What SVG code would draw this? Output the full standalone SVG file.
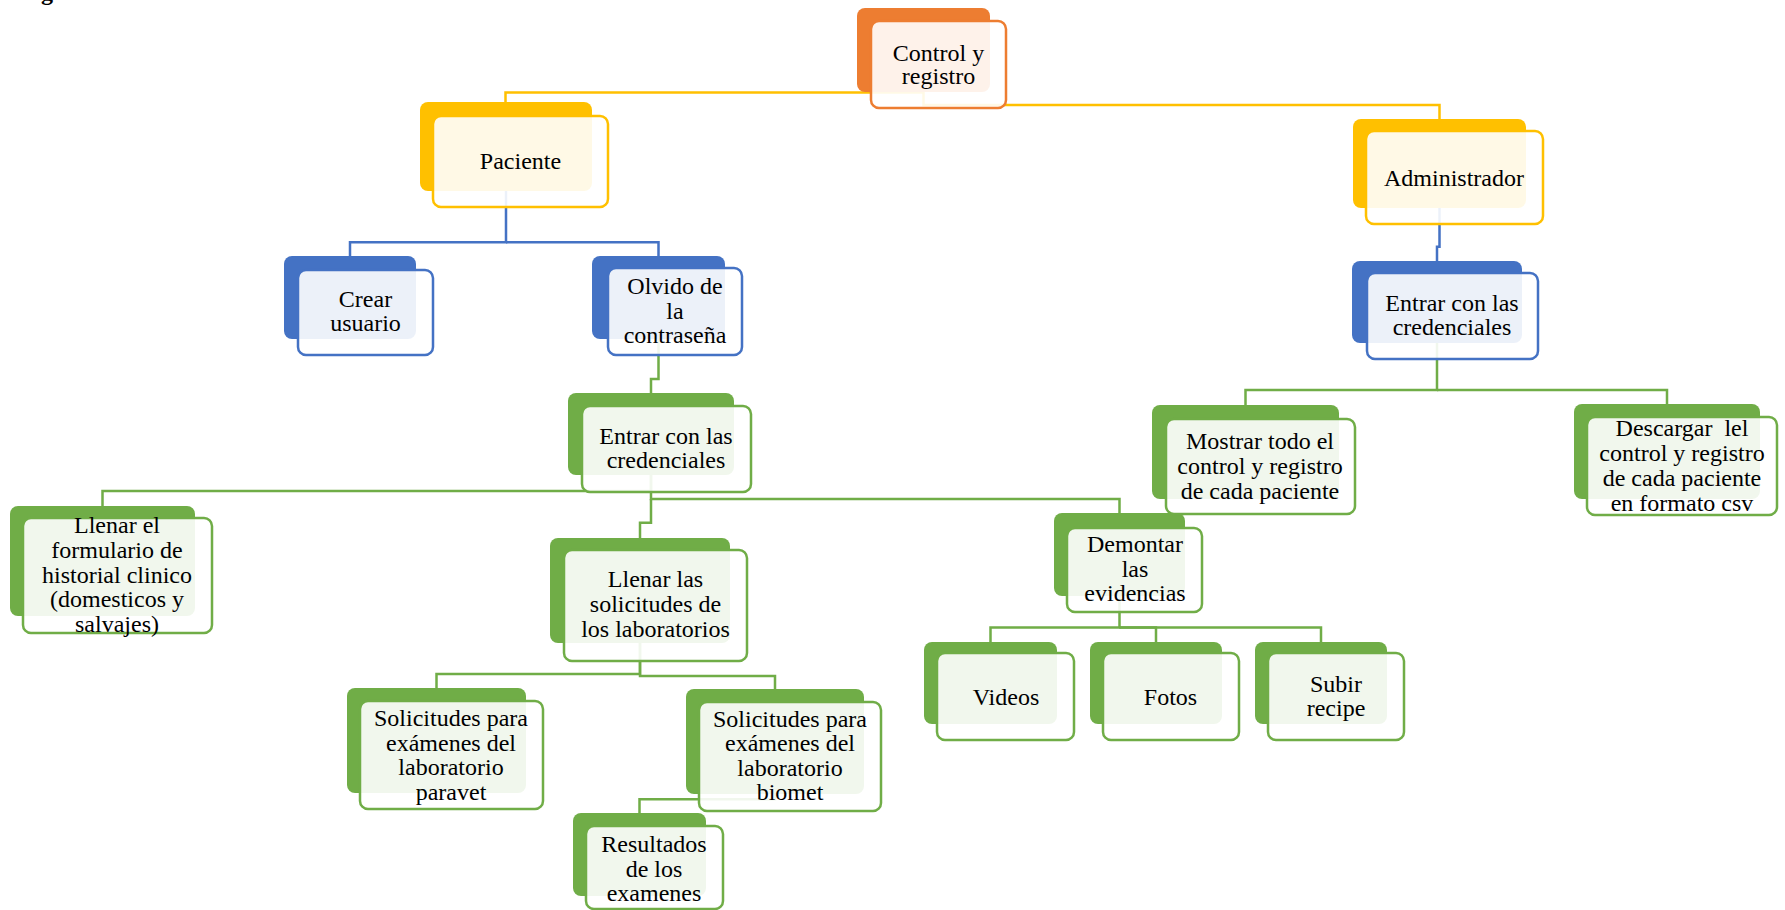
<svg xmlns="http://www.w3.org/2000/svg" width="1785" height="910" viewBox="0 0 1785 910">
<style>
.t{font-family:"Liberation Serif","Times New Roman",serif;font-size:24px;fill:#000;text-anchor:middle;white-space:pre}
.bo{fill:#ED7D31}.by{fill:#FFC000}.bb{fill:#4472C4}.bg{fill:#70AD47}
.f{fill:#fff;fill-opacity:0.9;stroke-width:2.5}
.fo{stroke:#ED7D31}.fy{stroke:#FFC000}.fb{stroke:#4472C4}.fg{stroke:#70AD47}
.c{fill:none;stroke-width:2.5}
.cy{stroke:#FFC000}.cb{stroke:#4472C4}.cg{stroke:#70AD47}
</style>
<rect width="1785" height="910" fill="#fff"/>
<text x="41" y="0" style="font-family:'Liberation Serif',serif;font-size:24px;font-weight:bold">g</text>
<g id="connectors">
<path class="c cy" d="M923.5,92.5 H505.5 V102"/>
<path class="c cy" d="M923.5,92 V105 H1439.5 V119"/>
<path class="c cb" d="M506,191 V242.3 H350 V256"/>
<path class="c cb" d="M506,242.3 H658.5 V256"/>
<path class="c cb" d="M1439.5,208 V246.7 H1437 V261"/>
<path class="c cg" d="M658.5,339 V379 H651 V393"/>
<path class="c cg" d="M651,475 V491 H102.5 V506"/>
<path class="c cg" d="M651,475 V499 H1119.5 V513"/>
<path class="c cg" d="M651,499 V522.7 H640 V538"/>
<path class="c cg" d="M640,643 V674 H436.5 V688"/>
<path class="c cg" d="M640,643 V676 H775 V689"/>
<path class="c cg" d="M775,794 V799.3 H639.5 V813"/>
<path class="c cg" d="M1119.5,596 V627.5 H990.5 V642"/>
<path class="c cg" d="M1119.5,627.5 H1156 V642"/>
<path class="c cg" d="M1119.5,627.5 H1321 V642"/>
<path class="c cg" d="M1437,343 V390 H1245.5 V405"/>
<path class="c cg" d="M1437,390 H1667 V404"/>
</g>
<g id="control">
<rect class="bo" x="857" y="8" width="133" height="84" rx="8"/>
<rect class="f fo" x="871" y="21" width="135" height="87" rx="8"/>
<text class="t" x="938.5" y="61">Control y</text>
<text class="t" x="938.5" y="84">registro</text>
</g>
<g id="paciente">
<rect class="by" x="420" y="102" width="172" height="89" rx="8"/>
<rect class="f fy" x="433" y="116" width="175" height="91" rx="8"/>
<text class="t" x="520.5" y="169">Paciente</text>
</g>
<g id="administrador">
<rect class="by" x="1353" y="119" width="173" height="89" rx="8"/>
<rect class="f fy" x="1366" y="131" width="177" height="93" rx="8"/>
<text class="t" x="1454" y="186">Administrador</text>
</g>
<g id="crear">
<rect class="bb" x="284" y="256" width="132" height="83" rx="8"/>
<rect class="f fb" x="298" y="270" width="135" height="85" rx="8"/>
<text class="t" x="365.5" y="307">Crear</text>
<text class="t" x="365.5" y="331">usuario</text>
</g>
<g id="olvido">
<rect class="bb" x="592" y="256" width="133" height="83" rx="8"/>
<rect class="f fb" x="608" y="268" width="134" height="87" rx="8"/>
<text class="t" x="675" y="294">Olvido de</text>
<text class="t" x="675" y="318.5">la</text>
<text class="t" x="675" y="343">contraseña</text>
</g>
<g id="entrar-paciente">
<rect class="bg" x="568" y="393" width="166" height="82" rx="8"/>
<rect class="f fg" x="582" y="406" width="169" height="86" rx="8"/>
<text class="t" x="666" y="444">Entrar con las</text>
<text class="t" x="666" y="468">credenciales</text>
</g>
<g id="llenar-formulario">
<rect class="bg" x="10" y="506" width="185" height="110" rx="8"/>
<rect class="f fg" x="23" y="518" width="189" height="115" rx="8"/>
<text class="t" x="117" y="533.3">Llenar el</text>
<text class="t" x="117" y="558">formulario de</text>
<text class="t" x="117" y="582.7">historial clinico</text>
<text class="t" x="117" y="607.3">(domesticos y</text>
<text class="t" x="117" y="632">salvajes)</text>
</g>
<g id="llenar-solicitudes">
<rect class="bg" x="550" y="538" width="180" height="105" rx="8"/>
<rect class="f fg" x="564" y="550" width="183" height="111" rx="8"/>
<text class="t" x="655.5" y="587.3">Llenar las</text>
<text class="t" x="655.5" y="612">solicitudes de</text>
<text class="t" x="655.5" y="636.7">los laboratorios</text>
</g>
<g id="demontar">
<rect class="bg" x="1054" y="513" width="131" height="83" rx="8"/>
<rect class="f fg" x="1067" y="528" width="135" height="84" rx="8"/>
<text class="t" x="1135" y="552">Demontar</text>
<text class="t" x="1135" y="576.5">las</text>
<text class="t" x="1135" y="601">evidencias</text>
</g>
<g id="paravet">
<rect class="bg" x="347" y="688" width="179" height="105" rx="8"/>
<rect class="f fg" x="360" y="701" width="183" height="108" rx="8"/>
<text class="t" x="451" y="726">Solicitudes para</text>
<text class="t" x="451" y="750.5">exámenes del</text>
<text class="t" x="451" y="775">laboratorio</text>
<text class="t" x="451" y="799.5">paravet</text>
</g>
<g id="biomet">
<rect class="bg" x="686" y="689" width="178" height="105" rx="8"/>
<rect class="f fg" x="699" y="702" width="182" height="109" rx="8"/>
<text class="t" x="790" y="727">Solicitudes para</text>
<text class="t" x="790" y="751">exámenes del</text>
<text class="t" x="790" y="776">laboratorio</text>
<text class="t" x="790" y="800">biomet</text>
</g>
<g id="resultados">
<rect class="bg" x="573" y="813" width="133" height="83" rx="8"/>
<rect class="f fg" x="586" y="826" width="137" height="83" rx="8"/>
<text class="t" x="654" y="852">Resultados</text>
<text class="t" x="654" y="876.5">de los</text>
<text class="t" x="654" y="901">examenes</text>
</g>
<g id="videos">
<rect class="bg" x="924" y="642" width="133" height="82" rx="8"/>
<rect class="f fg" x="937" y="653" width="137" height="87" rx="8"/>
<text class="t" x="1006" y="704.5">Videos</text>
</g>
<g id="fotos">
<rect class="bg" x="1090" y="642" width="132" height="82" rx="8"/>
<rect class="f fg" x="1103" y="653" width="136" height="87" rx="8"/>
<text class="t" x="1170.5" y="704.5">Fotos</text>
</g>
<g id="subir">
<rect class="bg" x="1255" y="642" width="132" height="82" rx="8"/>
<rect class="f fg" x="1268" y="653" width="136" height="87" rx="8"/>
<text class="t" x="1336" y="692">Subir</text>
<text class="t" x="1336" y="716">recipe</text>
</g>
<g id="entrar-admin">
<rect class="bb" x="1352" y="261" width="170" height="82" rx="8"/>
<rect class="f fb" x="1367" y="273" width="171" height="86" rx="8"/>
<text class="t" x="1452" y="311">Entrar con las</text>
<text class="t" x="1452" y="335">credenciales</text>
</g>
<g id="mostrar">
<rect class="bg" x="1152" y="405" width="187" height="94" rx="8"/>
<rect class="f fg" x="1166" y="419" width="189" height="95" rx="8"/>
<text class="t" x="1260" y="449">Mostrar todo el</text>
<text class="t" x="1260" y="473.5">control y registro</text>
<text class="t" x="1260" y="498.5">de cada paciente</text>
</g>
<g id="descargar">
<rect class="bg" x="1574" y="404" width="186" height="95" rx="8"/>
<rect class="f fg" x="1587" y="417" width="190" height="98" rx="8"/>
<text class="t" x="1682" y="436">Descargar  lel</text>
<text class="t" x="1682" y="461">control y registro</text>
<text class="t" x="1682" y="486">de cada paciente</text>
<text class="t" x="1682" y="511">en formato csv</text>
</g>
</svg>
